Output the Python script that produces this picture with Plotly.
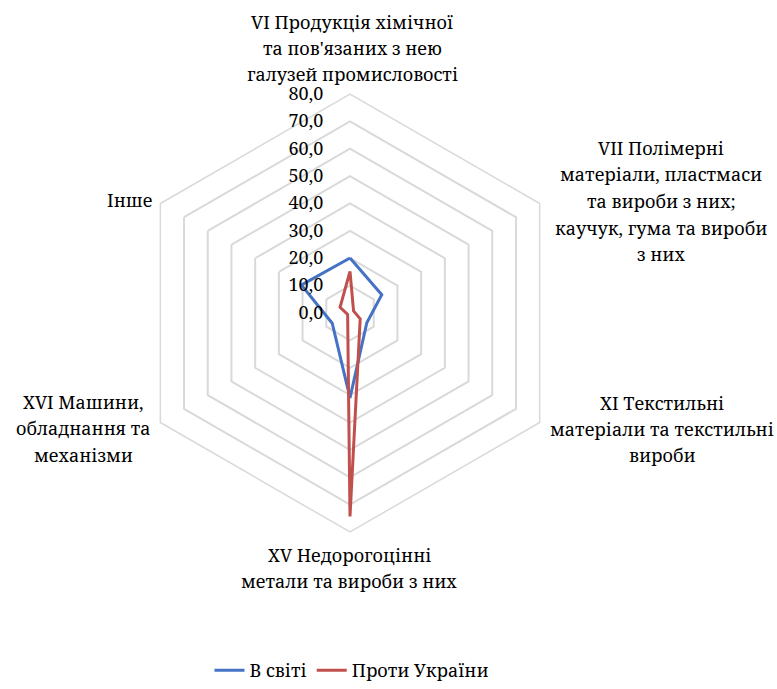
import plotly.graph_objects as go

categories = ["VI", "VII", "XI", "XV", "XVI", "Інше"]
category_labels = [
    ["VI Продукція хімічної", "та пов'язаних з нею", "галузей промисловості"],
    ["VII Полімерні", "матеріали, пластмаси", "та вироби з них;", "каучук, гума та вироби", "з них"],
    ["XI Текстильні", "матеріали та текстильні", "вироби"],
    ["XV Недорогоцінні", "метали та вироби з них"],
    ["XVI Машини,", "обладнання та", "механізми"],
    ["Інше"],
]
world_values = [20.1, 13.4, 7.1, 31.0, 7.5, 20.5]
ukraine_values = [15.2, 1.5, 4.3, 74.3, 1.0, 4.2]
series_names = ["В світі", "Проти України"]
radial_ticks = [0, 10, 20, 30, 40, 50, 60, 70, 80]

FONT = "Noto Serif"
FS = 18
GRID = "#d9d9d9"

# label block centres in pixels (layout only)
label_pos_px = [(352, 48), (661, 201), (662, 429), (349, 568), (83, 428), (129, 200)]
LINE_H = 26.5
W, H = 777, 689

fig = go.Figure()
for name, vals, col in [(series_names[0], world_values, "#4472C4"),
                        (series_names[1], ukraine_values, "#C0504D")]:
    fig.add_trace(go.Scatterpolar(
        r=vals + vals[:1], theta=categories + categories[:1],
        mode="lines", name=name,
        line=dict(color=col, width=3),
    ))

cx, cy, R = 350, 313, 219
fig.update_layout(
    width=W, height=H,
    margin=dict(l=0, r=0, t=0, b=0),
    paper_bgcolor="white", plot_bgcolor="white",
    separators=", ",
    font=dict(family=FONT, size=FS, color="black"),
    polar=dict(
        domain=dict(x=[(cx - R) / W, (cx + R) / W], y=[1 - (cy + R) / H, 1 - (cy - R) / H]),
        gridshape="linear",
        bgcolor="white",
        radialaxis=dict(
            range=[0, 80], tickvals=radial_ticks, tickformat=".1f",
            angle=90, tickangle=90, side="counterclockwise",
            showline=False, gridcolor=GRID, gridwidth=1.5,
            ticks="outside", ticklen=20, tickcolor="rgba(0,0,0,0)",
            tickfont=dict(family=FONT, size=FS),
        ),
        angularaxis=dict(
            rotation=90, direction="clockwise",
            showgrid=False, showticklabels=False, ticks="",
            showline=True, linecolor=GRID, linewidth=1.5,
        ),
    ),
    showlegend=True,
    legend=dict(orientation="h", x=352 / W, xanchor="center", y=0, yanchor="bottom",
                font=dict(family=FONT, size=FS)),
)
for lines, (px, py) in zip(category_labels, label_pos_px):
    n = len(lines)
    for i, ln in enumerate(lines):
        ly = py + (i - (n - 1) / 2) * LINE_H
        fig.add_annotation(text=ln, x=px / W, y=1 - ly / H, xref="paper", yref="paper",
                           xanchor="center", yanchor="middle", showarrow=False,
                           font=dict(family=FONT, size=FS))

fig.write_html("out.html", config={"displayModeBar": False},
               post_script="document.body.style.margin='0';")
